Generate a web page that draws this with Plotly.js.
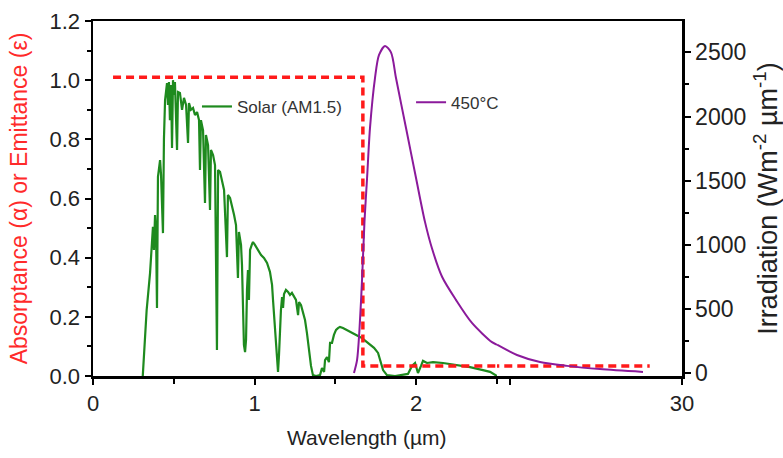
<!DOCTYPE html>
<html><head><meta charset="utf-8">
<script src="https://cdn.plot.ly/plotly-3.0.1.min.js"></script>
<style>html,body{margin:0;padding:0;background:#fff}#chart{width:783px;height:458px}</style>
</head><body><div id="chart"></div>
<script>
// Solar AM1.5 spectrum (normalised, left axis)
const wlSolar = [0.308,0.332,0.353,0.365,0.371,0.377,0.384,0.39,0.396,0.402,
0.415,0.421,0.433,0.439,0.446,0.458,0.464,0.47,0.476,0.483,
0.489,0.495,0.501,0.507,0.514,0.52,0.526,0.538,0.551,0.563,
0.576,0.588,0.594,0.606,0.619,0.631,0.644,0.656,0.662,0.668,
0.681,0.693,0.699,0.712,0.724,0.73,0.743,0.755,0.767,0.774,
0.786,0.798,0.811,0.829,0.835,0.848,0.86,0.873,0.885,0.897,
0.903,0.916,0.922,0.928,0.934,0.941,0.947,0.953,0.959,0.965,
0.972,0.984,0.99,1.002,1.021,1.04,1.058,1.077,1.095,1.108,
1.114,1.12,1.126,1.132,1.139,1.145,1.151,1.157,1.163,1.17,
1.176,1.182,1.194,1.207,1.219,1.231,1.244,1.256,1.269,1.275,
1.287,1.3,1.312,1.324,1.337,1.349,1.361,1.38,1.405,1.417,
1.43,1.436,1.448,1.46,1.467,1.479,1.491,1.504,1.516,1.528,
1.547,1.566,1.59,1.615,1.64,1.665,1.689,1.714,1.739,1.764,
1.782,1.795,1.819,1.869,1.949,1.974,1.993,2.011,2.03,2.042,
2.067,2.104,2.166,2.252,2.333,2.413,2.457,2.5];
const solar = [0,0.223,0.348,0.46,0.504,0.426,0.544,0.49,0.23,0.673,
0.73,0.68,0.483,0.8,0.933,0.99,0.916,0.994,0.865,0.984,
0.771,1.0,0.95,0.994,0.9,0.764,0.96,0.957,0.9,0.94,
0.916,0.788,0.923,0.9,0.906,0.882,0.892,0.865,0.696,0.865,
0.83,0.585,0.815,0.78,0.561,0.764,0.747,0.713,0.088,0.696,
0.69,0.663,0.629,0.402,0.612,0.602,0.578,0.544,0.51,0.331,
0.487,0.443,0.375,0.257,0.105,0.081,0.122,0.291,0.358,0.257,
0.426,0.446,0.453,0.443,0.426,0.409,0.399,0.382,0.352,0.308,
0.257,0.206,0.156,0.105,0.054,0.014,0.071,0.189,0.223,0.267,
0.23,0.277,0.291,0.284,0.274,0.281,0.267,0.257,0.206,0.25,
0.24,0.216,0.189,0.145,0.088,0.034,0.003,0,0.003,0.027,
0.014,0.054,0.064,0.047,0.112,0.112,0.139,0.156,0.162,0.166,
0.162,0.156,0.149,0.142,0.135,0.128,0.118,0.108,0.095,0.078,
0.047,0.02,0.003,0,0.007,0.034,0.044,0.01,0.034,0.051,
0.044,0.047,0.044,0.037,0.03,0.02,0.014,0];

// Black-body irradiation at 450 °C (right axis)
const wlBody = [1.615,1.634,1.649,1.665,1.68,1.696,1.714,1.745,1.77,1.807,1.844,1.875,
1.937,1.999,2.054,2.098,2.16,2.246,2.345,2.469,2.5,5.47,8.89,12.9,17.8,24.2];
const irr450 = [0,100,340,730,1180,1520,1910,2300,2480,2550,2500,2300,
1910,1520,1180,970,750,570,390,240,220,140,85,55,30,8];

// Ideal selective absorber (left axis)
const wlSelective = [0.124,1.67,1.67,25.2];
const absEmit = [1.01,1.01,0.034,0.034];

// Tick labels
const xTicks1 = [0,1,2];
const xLabels1 = ['0','1','2'];
const xTicks2 = [30];
const xLabels2 = ['30'];
const yTicks2 = [0,500,1000,1500,2000,2500];

const FONT = 'Liberation Sans, Arial, sans-serif';
const BREAK = 2.5;          // wavelength where the axis scale changes
const split = 0.6859;       // paper fraction of the break

function part(xs, ys, lo, hi) {
  const px = [], py = [];
  xs.forEach((v, i) => { if (v >= lo && v <= hi) { px.push(v); py.push(ys[i]); } });
  return {x: px, y: py};
}
const body1 = part(wlBody, irr450, 0, BREAK);
const body2 = part(wlBody, irr450, BREAK, 100);

const redLine = {color:'#ff1a1a', width:3.5, dash:'8px,5px'};
const purpleLine = {color:'#8b1a9b', width:2, shape:'spline', smoothing:0.8};

const traces = [
  {x: wlSolar, y: solar, xaxis:'x', yaxis:'y', mode:'lines', name:'Solar (AM1.5)',
   line:{color:'#1e8a1e', width:2.2}, legend:'legend'},
  {x: wlSelective, y: absEmit, xaxis:'x', yaxis:'y', mode:'lines', showlegend:false, line:redLine},
  {x: wlSelective, y: absEmit, xaxis:'x2', yaxis:'y', mode:'lines', showlegend:false, line:redLine},
  {x: body1.x, y: body1.y, xaxis:'x', yaxis:'y2', mode:'lines', name:'450\u00b0C',
   line:purpleLine, legend:'legend2'},
  {x: body2.x, y: body2.y, xaxis:'x2', yaxis:'y2', mode:'lines', showlegend:false, line:purpleLine}
];

const axLine = {showline:true, linecolor:'#000', linewidth:2.5, showgrid:false, zeroline:false,
  ticks:'outside', tickcolor:'#000', tickwidth:2, ticklen:6};

const layout = {
  width:783, height:458,
  margin:{l:93, r:101, t:21, b:82},
  paper_bgcolor:'#fff', plot_bgcolor:'#fff',
  font:{family:FONT, color:'#222'},
  xaxis: Object.assign({}, axLine, {domain:[0, split], range:[0,BREAK], anchor:'y', mirror:true,
    tickvals:xTicks1, ticktext:xLabels1, tickfont:{size:22, family:FONT, color:'#222'},
    minor:{dtick:0.5, tick0:0, ticks:'outside', ticklen:5, tickcolor:'#000', tickwidth:2}}),
  xaxis2: Object.assign({}, axLine, {domain:[split, 1], range:[BREAK,30], anchor:'y', mirror:true,
    tickvals:xTicks2, ticktext:xLabels2, tickfont:{size:22, family:FONT, color:'#222'},
    minor:{tickmode:'array', tickvals:[4.4], ticks:'outside', ticklen:6, tickcolor:'#000', tickwidth:2}}),
  yaxis: Object.assign({}, axLine, {range:[0,1.2], anchor:'x', dtick:0.2, tickformat:'.1f',
    tickfont:{size:22, family:FONT, color:'#222'},
    minor:{dtick:0.1, ticks:'outside', ticklen:4, tickcolor:'#000', tickwidth:2},
    title:{text:'Absorptance (\u03b1) or Emittance (\u03b5)', font:{size:23, family:FONT, color:'#ff2a2a'}, standoff:16}}),
  yaxis2: Object.assign({}, axLine, {range:[-24,2745], overlaying:'y', side:'right', anchor:'x2',
    tickvals:yTicks2, tickfont:{size:23, family:FONT, color:'#222'},
    minor:{dtick:250, tick0:0, ticks:'outside', ticklen:4, tickcolor:'#000', tickwidth:2},
    title:{text:'Irradiation (Wm<sup>-2</sup> \u00b5m<sup>-1</sup>)', font:{size:27, family:FONT, color:'#222'}, standoff:15}}),
  annotations:[{text:'Wavelength (\u00b5m)', xref:'paper', yref:'paper', x:0.465, y:-0.172,
    xanchor:'center', yanchor:'middle', showarrow:false, font:{size:21, family:FONT, color:'#222'}}],
  legend:{x:0.1765, y:0.758, xanchor:'left', yanchor:'middle', bgcolor:'rgba(0,0,0,0)',
    font:{size:17, family:FONT, color:'#333'}, borderwidth:0},
  legend2:{x:0.54, y:0.77, xanchor:'left', yanchor:'middle', bgcolor:'rgba(0,0,0,0)',
    font:{size:17, family:FONT, color:'#333'}, borderwidth:0}
};

Plotly.newPlot('chart', traces, layout, {staticPlot:true, displayModeBar:false});
</script>
</body></html>
